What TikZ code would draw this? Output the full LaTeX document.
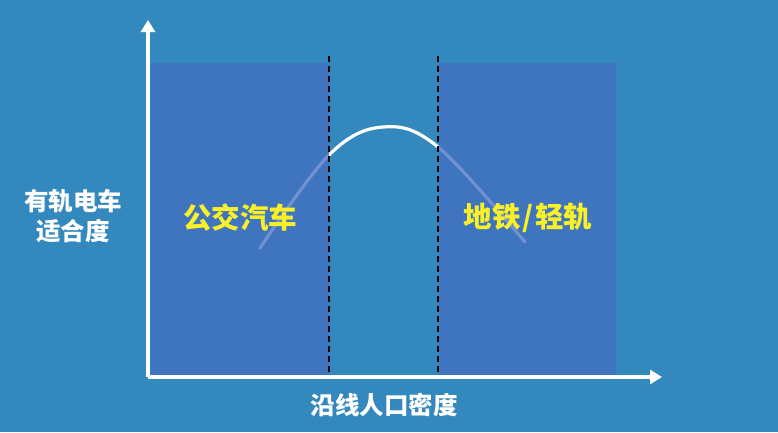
\documentclass[tikz,border=0pt]{standalone}
\usepackage{fontspec}
\newfontfamily\cjk{Noto Sans CJK SC}
\usetikzlibrary{arrows.meta}
\definecolor{bgblue}{RGB}{51,137,189}
\definecolor{boxblue}{RGB}{68,109,193}
\definecolor{labelyellow}{RGB}{250,240,40}
\begin{document}
\begin{tikzpicture}[x=1pt, y=-1pt,
    axis/.style={white, line width=4pt, -{Triangle[length=12pt, width=14pt]}},
    zone/.style={fill=boxblue, fill opacity=0.75},
    divider/.style={black, line width=1.2pt, dash pattern=on 6pt off 4pt},
    axislabel/.style={white, font=\cjk\bfseries\fontsize{24.5}{30}\selectfont, align=center},
    zonelabel/.style={labelyellow, font=\cjk\bfseries\fontsize{28.5}{34}\selectfont}]
    % 背景
    \fill[bgblue] (0,0) rectangle (778,432);

    % 适合度曲线
    \draw[white, line width=3.2pt, line cap=round] plot[smooth, tension=0.6]
        coordinates {(260,248) (329,155) (383,127) (438,147) (525,242)};

    % 两侧区域
    \fill[zone] (151,63) rectangle (329,376);
    \fill[zone] (439,63) rectangle (616,376);

    % 分界虚线
    \draw[divider] (329,56) -- (329,377);
    \draw[divider] (438,56) -- (438,377);

    % 坐标轴
    \coordinate (O) at (148,377);
    \coordinate (ytip) at (148,20);
    \coordinate (xtip) at (662,377);
    \draw[axis] (O) -- (ytip);
    \draw[axis] (O) -- (xtip);

    % 标签
    \node[axislabel] (ylabel) at (73,216) {有轨电车\\适合度};
    \node[axislabel] (xlabel) at (384,405) {沿线人口密度};
    \node[zonelabel] (bus) at (240,218) {公交汽车};
    \node[zonelabel] (metro) at (528,218) {地铁\hspace{2pt}/\hspace{2pt}轻轨};
\end{tikzpicture}
\end{document}
